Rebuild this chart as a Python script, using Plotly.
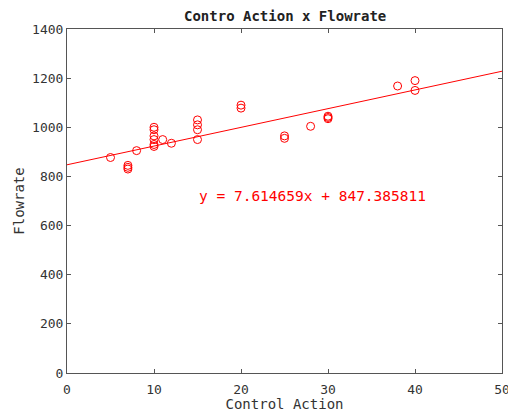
import plotly.graph_objects as go

# Control action samples and measured flowrate
control_action = [5, 7, 7, 7, 8, 10, 10, 10, 10, 10, 10, 11, 12,
                  15, 15, 15, 15, 20, 20, 25, 25, 28, 30, 30, 30, 38, 40, 40]
flowrate = [877, 845, 837, 830, 905, 1000, 990, 965, 950, 930, 922, 950, 935,
            1030, 1010, 990, 950, 1090, 1078, 965, 955, 1004, 1045, 1040, 1035, 1168, 1190, 1150]

# Linear fit coefficients
slope = 7.614659
intercept = 847.385811
fit_x = [0, 50]
fit_y = [slope * v + intercept for v in fit_x]

x_ticks = [0, 10, 20, 30, 40, 50]
y_ticks = [0, 200, 400, 600, 800, 1000, 1200, 1400]

RED = "#ff0000"
AXIS = "#555555"
TEXT = "#333333"
FONT = "DejaVu Sans Mono"

fig = go.Figure()
fig.add_trace(go.Scatter(
    x=control_action, y=flowrate, mode="markers",
    marker=dict(symbol="circle-open", size=8, color=RED, line=dict(width=1)),
    showlegend=False, cliponaxis=False,
))
fig.add_trace(go.Scatter(
    x=fit_x, y=fit_y, mode="lines",
    line=dict(color=RED, width=1),
    showlegend=False,
))

fig.add_annotation(
    x=28.2, y=722, xref="x", yref="y",
    text=f"y = {slope:.6f}x + {intercept:.6f}",
    showarrow=False, font=dict(family=FONT, size=14.5, color=RED),
)
fig.add_annotation(
    x=0.5, y=1, xref="paper", yref="paper", yanchor="bottom", yshift=3,
    text="<b>Contro Action x Flowrate</b>", showarrow=False,
    font=dict(family=FONT, size=14, color="#222222"),
)

axis_common = dict(
    showgrid=False, zeroline=False, showline=True, linecolor=AXIS, linewidth=1,
    mirror="ticks", ticks="inside", ticklen=4, tickcolor=AXIS,
    tickfont=dict(family=FONT, size=13, color=TEXT),
    ticklabeloverflow="allow", automargin=False,
)
fig.update_xaxes(
    range=[0, 50], tickvals=x_ticks, ticktext=[str(t) for t in x_ticks],
    ticklabelstandoff=4,
    title=dict(text="Control Action", standoff=0,
               font=dict(family=FONT, size=14, color=TEXT)),
    **axis_common,
)
fig.update_yaxes(
    range=[0, 1400], tickvals=y_ticks, ticktext=[str(t) for t in y_ticks],
    title=dict(text="Flowrate", standoff=4,
               font=dict(family=FONT, size=14, color=TEXT)),
    **axis_common,
)

fig.update_layout(
    width=508, height=412,
    margin=dict(l=67, r=6, t=29, b=39),
    paper_bgcolor="white", plot_bgcolor="white",
    font=dict(family=FONT),
)

fig.write_html("out.html")
